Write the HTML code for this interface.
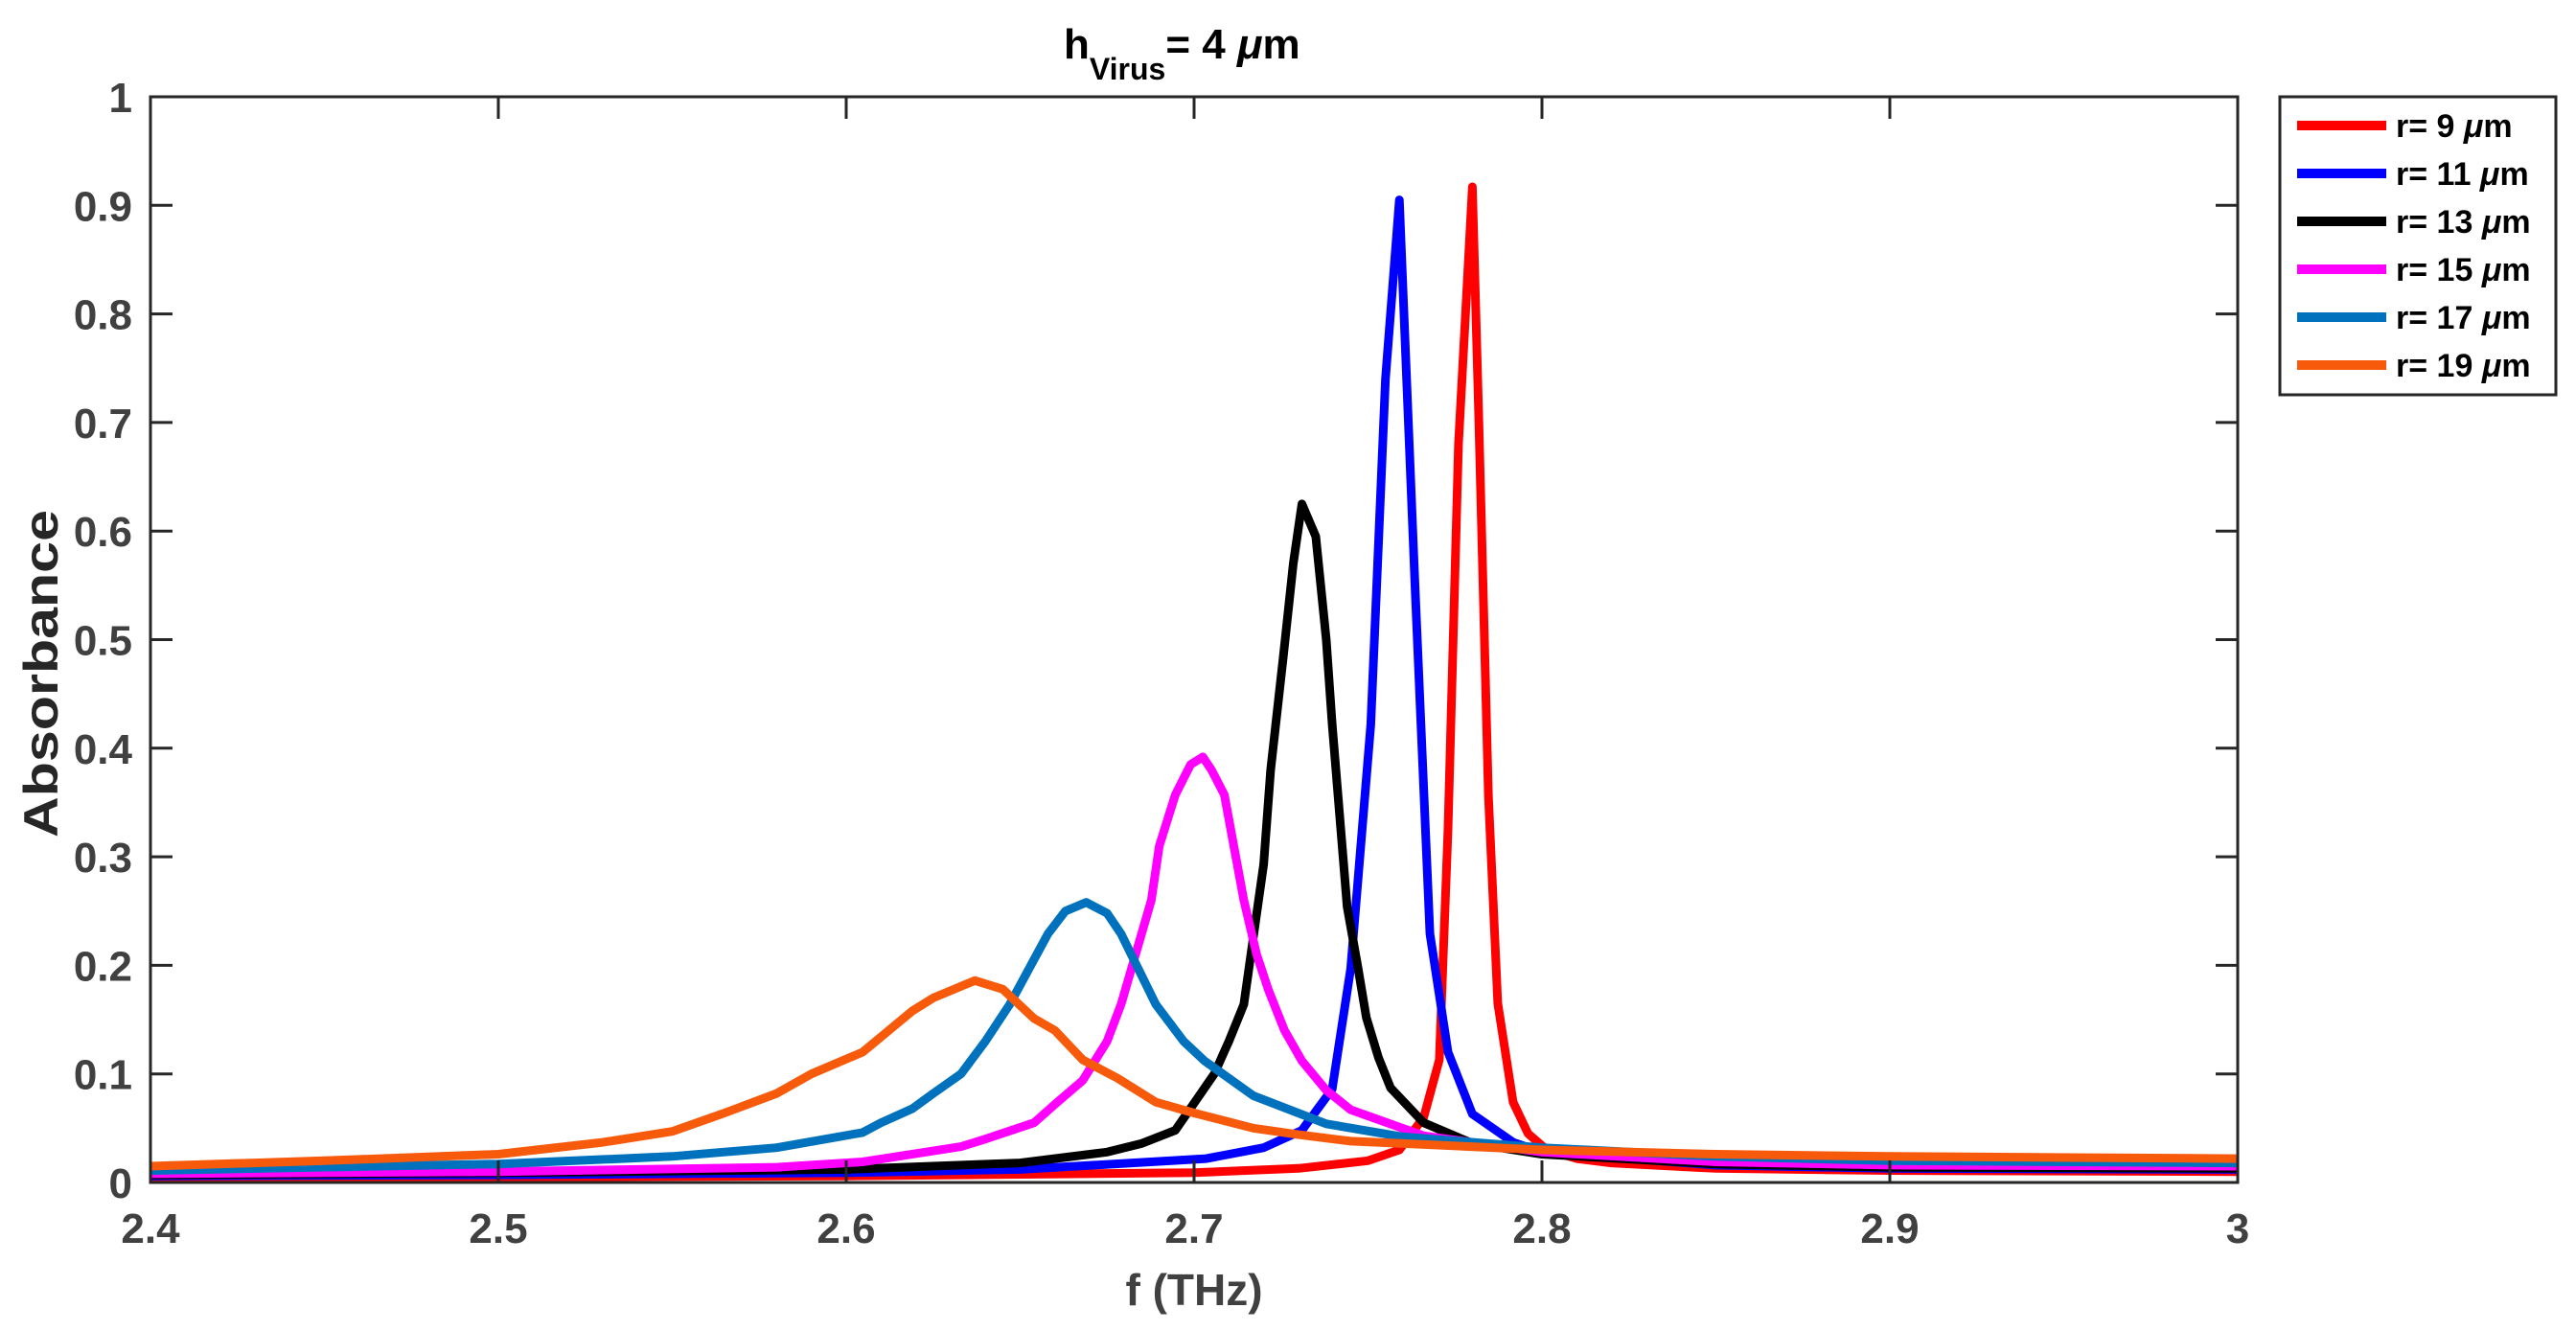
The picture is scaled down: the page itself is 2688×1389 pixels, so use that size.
<!DOCTYPE html>
<html><head><meta charset="utf-8"><style>
html,body{margin:0;padding:0;background:#fff;}
svg{display:block;font-family:"Liberation Sans",Arial,sans-serif;}
</style></head><body>
<svg id="chart" width="2688" height="1389" viewBox="0 0 2688 1389" xmlns="http://www.w3.org/2000/svg">
<rect width="2688" height="1389" fill="#fff"/>
<g id="series"></g>
<g id="axes"></g>
<text x="1110" y="61" font-size="44" font-weight="bold" fill="#000">h<tspan font-size="32" dy="22">Virus</tspan><tspan dy="-22">= 4 </tspan><tspan font-style="italic">μ</tspan>m</text>
<text x="1246" y="1362" font-size="46" font-weight="bold" fill="#404040" text-anchor="middle">f (THz)</text>
<text x="0" y="0" font-size="50" font-weight="bold" fill="#262626" text-anchor="middle" textLength="342" lengthAdjust="spacingAndGlyphs" transform="translate(60,703) rotate(-90)">Absorbance</text>
<g id="legend"></g>
</svg>
<script>
const xTicks = [2.4, 2.5, 2.6, 2.7, 2.8, 2.9, 3];
const xTickLabels = ["2.4", "2.5", "2.6", "2.7", "2.8", "2.9", "3"];
const yTicks = [0, 0.1, 0.2, 0.3, 0.4, 0.5, 0.6, 0.7, 0.8, 0.9, 1];
const yTickLabels = ["0", "0.1", "0.2", "0.3", "0.4", "0.5", "0.6", "0.7", "0.8", "0.9", "1"];
const seriesNames = ["r= 9", "r= 11", "r= 13", "r= 15", "r= 17", "r= 19"];

const f9  = [2.4, 2.5, 2.6, 2.7, 2.73, 2.75, 2.759, 2.766, 2.7705, 2.773, 2.776, 2.78, 2.7818, 2.7846, 2.7873, 2.7917, 2.796, 2.8014, 2.81, 2.82, 2.85, 2.9, 3];
const a9  = [0.004, 0.005, 0.006, 0.009, 0.013, 0.02, 0.03, 0.06, 0.113, 0.326, 0.68, 0.917, 0.71, 0.357, 0.165, 0.074, 0.045, 0.03, 0.022, 0.018, 0.013, 0.011, 0.01];
const f11 = [2.4, 2.5, 2.6, 2.65, 2.7035, 2.72, 2.731, 2.7397, 2.745, 2.7508, 2.755, 2.759, 2.7635, 2.7678, 2.773, 2.78, 2.7917, 2.8, 2.85, 2.9, 3];
const a11 = [0.006, 0.007, 0.009, 0.012, 0.022, 0.032, 0.048, 0.086, 0.197, 0.422, 0.74, 0.905, 0.55, 0.229, 0.12, 0.063, 0.037, 0.028, 0.016, 0.013, 0.012];
const f13 = [2.4, 2.5, 2.6, 2.65, 2.675, 2.685, 2.6946, 2.7058, 2.71, 2.7143, 2.72, 2.722, 2.7257, 2.7285, 2.731, 2.735, 2.738, 2.7397, 2.744, 2.747, 2.7495, 2.753, 2.7565, 2.766, 2.78, 2.8, 2.85, 2.9, 3];
const a13 = [0.007, 0.009, 0.012, 0.018, 0.028, 0.036, 0.048, 0.1, 0.13, 0.164, 0.293, 0.38, 0.486, 0.57, 0.625, 0.595, 0.5, 0.422, 0.254, 0.2, 0.152, 0.115, 0.087, 0.055, 0.036, 0.026, 0.017, 0.014, 0.013];
const f15 = [2.4, 2.5, 2.58, 2.6047, 2.633, 2.64, 2.654, 2.66, 2.668, 2.675, 2.679, 2.6877, 2.69, 2.6946, 2.699, 2.7025, 2.705, 2.7087, 2.7143, 2.718, 2.7214, 2.726, 2.731, 2.738, 2.745, 2.766, 2.8, 2.85, 2.9, 3];
const a15 = [0.008, 0.01, 0.014, 0.019, 0.033, 0.04, 0.055, 0.072, 0.094, 0.13, 0.164, 0.26, 0.31, 0.357, 0.385, 0.392, 0.38, 0.357, 0.26, 0.21, 0.177, 0.14, 0.112, 0.085, 0.067, 0.043, 0.028, 0.019, 0.016, 0.015];
const f17 = [2.4, 2.5, 2.55, 2.58, 2.6047, 2.61, 2.619, 2.625, 2.633, 2.64, 2.647, 2.658, 2.663, 2.669, 2.675, 2.679, 2.689, 2.697, 2.703, 2.717, 2.738, 2.76, 2.8, 2.85, 2.9, 3];
const a17 = [0.011, 0.017, 0.024, 0.032, 0.046, 0.055, 0.068, 0.082, 0.1, 0.13, 0.164, 0.229, 0.25, 0.258, 0.248, 0.229, 0.164, 0.13, 0.112, 0.08, 0.054, 0.042, 0.032, 0.024, 0.02, 0.018];
const f19 = [2.4, 2.45, 2.5, 2.53, 2.55, 2.565, 2.58, 2.59, 2.6047, 2.619, 2.625, 2.637, 2.645, 2.654, 2.66, 2.668, 2.678, 2.689, 2.7, 2.717, 2.73, 2.745, 2.8, 2.85, 2.9, 3];
const a19 = [0.015, 0.02, 0.026, 0.037, 0.047, 0.064, 0.082, 0.1, 0.12, 0.158, 0.17, 0.186, 0.178, 0.151, 0.14, 0.113, 0.096, 0.074, 0.064, 0.05, 0.044, 0.038, 0.03, 0.026, 0.024, 0.022];

const L = 157, R = 2335, T = 101, B = 1234;
function xs(v){ return L + (v - 2.4) / 0.6 * (R - L); }
function ys(v){ return B - v * (B - T); }
const NS = "http://www.w3.org/2000/svg";
const colors = ["#ff0000", "#0000ff", "#000000", "#ff00ff", "#0072bd", "#f85a0c"];
const fs = [f9, f11, f13, f15, f17, f19];
const as = [a9, a11, a13, a15, a17, a19];
const sg = document.getElementById("series");
for (let s = 0; s < 6; s++) {
  const p = document.createElementNS(NS, "path");
  let d = "";
  for (let i = 0; i < fs[s].length; i++) d += (i ? "L" : "M") + xs(fs[s][i]).toFixed(1) + "," + ys(as[s][i]).toFixed(1);
  p.setAttribute("d", d);
  p.setAttribute("fill", "none");
  p.setAttribute("stroke", colors[s]);
  p.setAttribute("stroke-width", "9");
  p.setAttribute("stroke-linejoin", "round");
  
  
  sg.appendChild(p);
}
const ax = document.getElementById("axes");
let ad = "M" + L + "," + T + "H" + R + "V" + B + "H" + L + "Z";
xTicks.forEach(t => { const x = xs(t); ad += "M" + x + "," + B + "v-23M" + x + "," + T + "v23"; });
yTicks.forEach(t => { const y = ys(t); ad += "M" + L + "," + y + "h23M" + R + "," + y + "h-23"; });
const box = document.createElementNS(NS, "path");
box.setAttribute("d", ad);
box.setAttribute("fill", "none");
box.setAttribute("stroke", "#262626");
box.setAttribute("stroke-width", "3");


ax.appendChild(box);
xTicks.forEach((t, i) => {
  const tx = document.createElementNS(NS, "text");
  tx.setAttribute("x", xs(t)); tx.setAttribute("y", 1297);
  tx.setAttribute("text-anchor", "middle"); tx.setAttribute("font-size", "44");
  tx.setAttribute("font-weight", "bold"); tx.setAttribute("fill", "#404040");
  tx.textContent = xTickLabels[i];
  
  
  ax.appendChild(tx);
});
yTicks.forEach((t, i) => {
  const tx = document.createElementNS(NS, "text");
  tx.setAttribute("x", 138); tx.setAttribute("y", ys(t) + 16);
  tx.setAttribute("text-anchor", "end"); tx.setAttribute("font-size", "44");
  tx.setAttribute("font-weight", "bold"); tx.setAttribute("fill", "#404040");
  tx.textContent = yTickLabels[i];
  
  
  ax.appendChild(tx);
});
const lg = document.getElementById("legend");
const lb = document.createElementNS(NS, "rect");
lb.setAttribute("x", 2379); lb.setAttribute("y", 101); lb.setAttribute("width", 288); lb.setAttribute("height", 311);
lb.setAttribute("fill", "#fff"); lb.setAttribute("stroke", "#262626"); lb.setAttribute("stroke-width", "3");


lg.appendChild(lb);
seriesNames.forEach((n, i) => {
  const y = 131 + i * 50;
  const ln = document.createElementNS(NS, "line");
  ln.setAttribute("x1", 2397); ln.setAttribute("x2", 2490); ln.setAttribute("y1", y); ln.setAttribute("y2", y);
  ln.setAttribute("stroke", colors[i]); ln.setAttribute("stroke-width", "10");
  
  
  lg.appendChild(ln);
  const tx = document.createElementNS(NS, "text");
  tx.setAttribute("x", 2500); tx.setAttribute("y", y + 12);
  tx.setAttribute("font-size", "34"); tx.setAttribute("font-weight", "bold"); tx.setAttribute("fill", "#000");
  tx.innerHTML = n + ' <tspan font-style="italic">μ</tspan>m';
  
  
  lg.appendChild(tx);
});
</script>
</body></html>
